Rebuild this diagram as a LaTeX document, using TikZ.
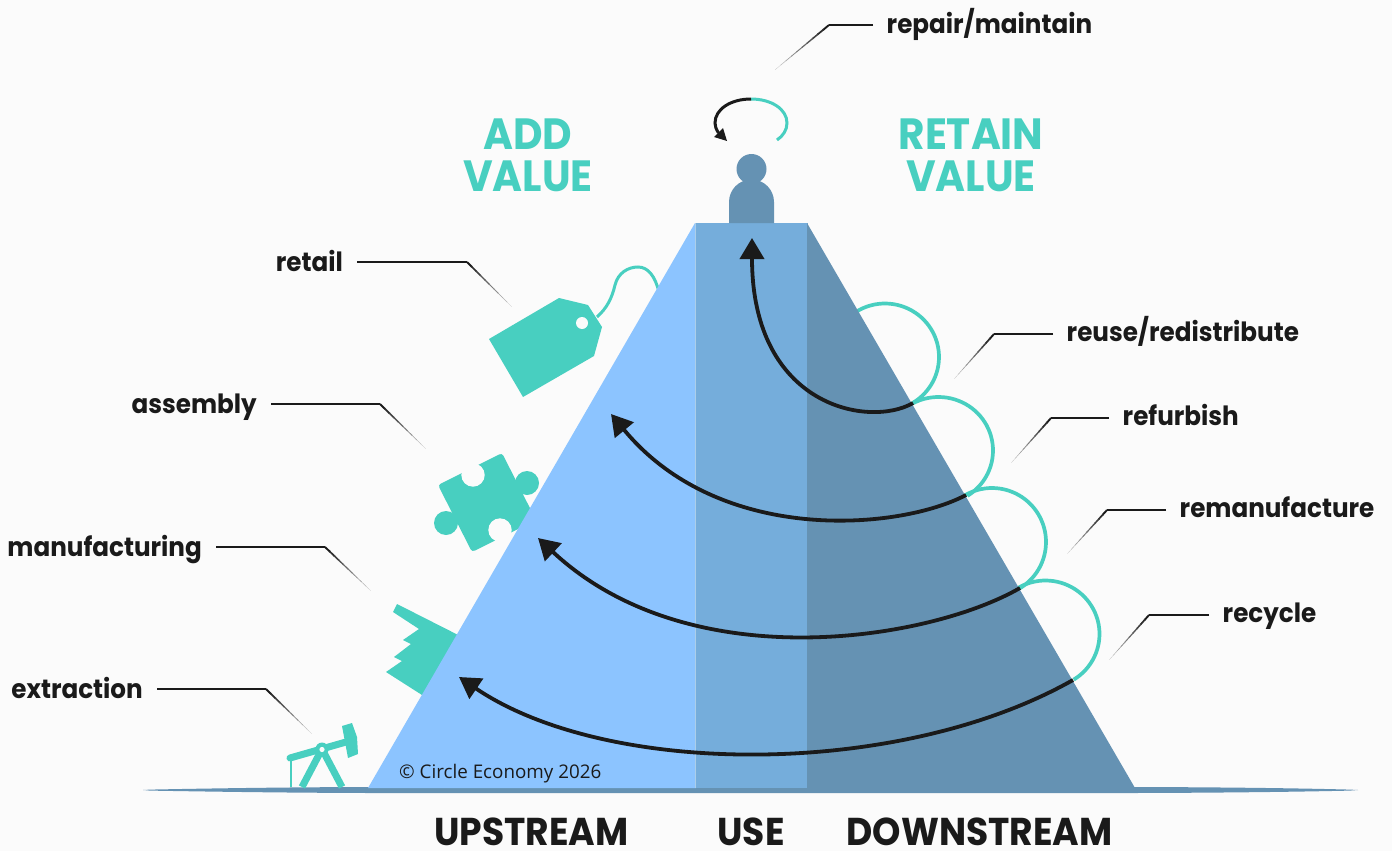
\documentclass[tikz,border=0pt]{standalone}
\usepackage{fontspec}
\usetikzlibrary{arrows.meta,calc}
\newfontfamily\labfont[FakeStretch=0.93]{Poppins}
\newfontfamily\credfont{Open Sans}
\definecolor{bgc}{HTML}{FBFBFB}
\definecolor{tealc}{HTML}{48CFC0}
\definecolor{lightb}{HTML}{8CC4FF}
\definecolor{midb}{HTML}{75ADDB}
\definecolor{darkb}{HTML}{6592B3}
\definecolor{inkc}{HTML}{1A1A1A}
\tikzset{
  looparc/.style={draw=tealc,line width=3.7pt},
  flowarrow/.style={draw=inkc,line width=3.8pt,-{Triangle[length=21pt,width=24pt]}},
  tealfill/.style={fill=tealc,draw=none},
  lablt/.style={anchor=east,inner xsep=14pt,inner ysep=0pt,text=inkc,font=\labfont\bfseries\fontsize{26.5}{26.5}\selectfont,text height=18pt,text depth=0pt},
  labrt/.style={anchor=west,inner xsep=13.5pt,inner ysep=0pt,text=inkc,font=\labfont\bfseries\fontsize{26.5}{26.5}\selectfont,text height=14pt,text depth=0pt},
  headtxt/.style={text=tealc,font=\labfont\bfseries\fontsize{43.7}{42}\selectfont,inner sep=0pt,align=center},
  foottxt/.style={text=inkc,font=\labfont\bfseries\fontsize{38.8}{38.8}\selectfont,inner sep=0pt,anchor=base},
}
\newcommand{\leaderline}[3]{%
  \draw[draw=inkc,line width=2.3pt] (#1) -- (#2);
  \foreach \k in {0,1,...,9}{
    \pgfmathsetmacro{\ka}{\k/10}
    \pgfmathsetmacro{\kb}{(\k+1.15)/10}
    \pgfmathsetmacro{\kw}{1.9-0.18*\k}
    \pgfmathsetmacro{\kc}{100-8.5*\k}
    \draw[draw=inkc!\kc!bgc,line width=\kw pt] ($(#2)!\ka!(#3)$) -- ($(#2)!\kb!(#3)$);
  }
}
\begin{document}
\begin{tikzpicture}[x=1pt,y=-1pt]
\useasboundingbox (0,0) rectangle (1392,851);
\fill[bgc] (0,0) rectangle (1392,851);
% ground
\fill[darkb] (143,790) -- (150,789.6) .. controls (230,788) and (300,787.2) .. (368,787) -- (1135,787)
  .. controls (1210,787.2) and (1290,788) .. (1350,789.6) -- (1358,790) -- (1350,790.6)
  .. controls (1290,792) and (1210,792.8) .. (1135,793) -- (368,793)
  .. controls (300,792.8) and (230,792) .. (150,790.6) -- cycle;
% pump
\draw[draw=tealc,line width=2.4pt] (291,758) -- (291,787);
\draw[draw=tealc,line width=7pt] (322,749) -- (302,787);
\draw[draw=tealc,line width=7pt] (322,749) -- (342,787);
\draw[draw=tealc,line width=7pt,line cap=round] (290,758) -- (346,742);
\fill[tealfill] (342,726) -- (352,723) -- (357,737) -- (358,754) -- (348,758) -- cycle;
\fill[tealc] (322,749) circle (6.5);
\fill[bgc] (322,749.5) circle (2.6);
% factory
\fill[tealfill] (397,604) -- (470,641) -- (470,670) -- (422,695) -- (386,672) -- (402,661) -- (394,657) -- (411,644) -- (403,640) -- (419,629) -- (393,612) -- cycle;
% puzzle
\fill[tealc,rounded corners=3pt] (438,485) -- (502,453) -- (536,520) -- (472,552) -- cycle;
\fill[tealc] (527,483) circle (12);
\fill[tealc] (446,523) circle (12);
\fill[bgc] (473,475) circle (11.7);
\fill[bgc] (500,530) circle (11.7);
% tag
\fill[tealfill] (489,339) -- (559,298) -- (588,305) -- (602,327) -- (594,356) -- (523,397) -- cycle;
\fill[bgc] (582,323) circle (6);
\draw[draw=tealc,line width=3pt] (597,317) .. controls (607,308) and (612,298) .. (615,285) .. controls (618,273) and (628,267) .. (638,267) .. controls (648,267) and (655,276) .. (659,292);
% loops
\draw[looparc] plot[smooth,samples=45,domain=122:-59,variable=\t] ({885+54*cos(\t)},{357-53.5*sin(\t)});
\draw[looparc] plot[smooth,samples=45,domain=122:-58,variable=\t] ({938.5+54.5*cos(\t)},{450.5-53.5*sin(\t)});
\draw[looparc] plot[smooth,samples=45,domain=122:-59,variable=\t] ({992+54*cos(\t)},{542-54*sin(\t)});
\draw[looparc] plot[smooth,samples=45,domain=122:-58.5,variable=\t] ({1045.5+54*cos(\t)},{634-53.5*sin(\t)});
% pyramid
\fill[lightb] (368,788) -- (695,223) -- (696,223) -- (696,788) -- cycle;
\fill[midb] (695,223) -- (808,223) -- (808,788) -- (695,788) -- cycle;
\fill[darkb] (807,223) -- (1135,788) -- (1135,790) -- (807,790) -- cycle;
\draw[draw=white!40!midb,line width=0.8pt] (695.5,223) -- (695.5,788);
% person
\fill[darkb] (751.5,169) circle (15);
\fill[darkb] (729,223) -- (729,202) .. controls (729,189.6) and (739,179.5) .. (751.5,179.5) .. controls (764,179.5) and (774,189.6) .. (774,202) -- (774,223) -- cycle;
% flow arrows
\draw[flowarrow] (1073,680) .. controls (900,778) and (608,778) .. (459,677);
\draw[flowarrow] (1020,588) .. controls (930,640) and (690,680) .. (538,538);
\draw[flowarrow] (966,495) .. controls (900,530) and (720,546) .. (611,414);
\draw[flowarrow] (913,403) .. controls (870,428) and (752,408) .. (752,238);
% curl
\draw[draw=tealc,line width=3pt] (751,99) .. controls (771,99) and (787,109) .. (787,123) .. controls (787,130) and (783,136) .. (777,140);
\draw[draw=inkc,line width=3pt] (751,99) .. controls (731,99) and (715,109) .. (715,123) .. controls (715,126) and (716,129) .. (718.5,133);
\fill[inkc] (727,141) -- (714,137) -- (723,128) -- cycle;
% heads
\node[headtxt] (addv) at (528,155) {ADD\\VALUE};
\node[headtxt] (retv) at (971,155) {RETAIN\\VALUE};
\node[foottxt] (up) at (531.5,845.5) {UPSTREAM};
\node[foottxt] (use) at (751,845.5) {USE};
\node[foottxt] (down) at (979.5,845.5) {DOWNSTREAM};
\node[anchor=base west,inner sep=0pt,text=inkc,font=\credfont\fontsize{18.8}{19}\selectfont] (cred) at (399,778) {© Circle Economy 2026};
% labels
\node[lablt] (ret) at (357,262) {retail};
\node[lablt] (ass) at (271,404) {assembly};
\node[lablt] (man) at (216,547) {manufacturing};
\node[lablt] (ext) at (157,689) {extraction};
\node[labrt,text height=17pt] (rep) at (873,25) {repair/maintain};
\node[labrt] (reu) at (1053,334) {reuse/redistribute};
\node[labrt] (ref) at (1109,418) {refurbish};
\node[labrt] (rem) at (1166,510) {remanufacture};
\node[labrt] (rec) at (1209,615) {recycle};
% leader corners
\coordinate (retc) at (467,262); \coordinate (rete) at (511,306);
\coordinate (assc) at (380,404); \coordinate (asse) at (425,448);
\coordinate (manc) at (325,547); \coordinate (mane) at (370,590);
\coordinate (extc) at (266,689); \coordinate (exte) at (311,733);
\coordinate (repc) at (829,25); \coordinate (repe) at (776,69);
\coordinate (reuc) at (994,334); \coordinate (reue) at (955,378);
\coordinate (refc) at (1051,418); \coordinate (refe) at (1012,462);
\coordinate (remc) at (1107,510); \coordinate (reme) at (1068,553);
\coordinate (recc) at (1149,615); \coordinate (rece) at (1110,659);
\leaderline{ret.east}{retc}{rete}
\leaderline{ass.east}{assc}{asse}
\leaderline{man.east}{manc}{mane}
\leaderline{ext.east}{extc}{exte}
\leaderline{rep.west}{repc}{repe}
\leaderline{reu.west}{reuc}{reue}
\leaderline{ref.west}{refc}{refe}
\leaderline{rem.west}{remc}{reme}
\leaderline{rec.west}{recc}{rece}
\end{tikzpicture}
\end{document}
